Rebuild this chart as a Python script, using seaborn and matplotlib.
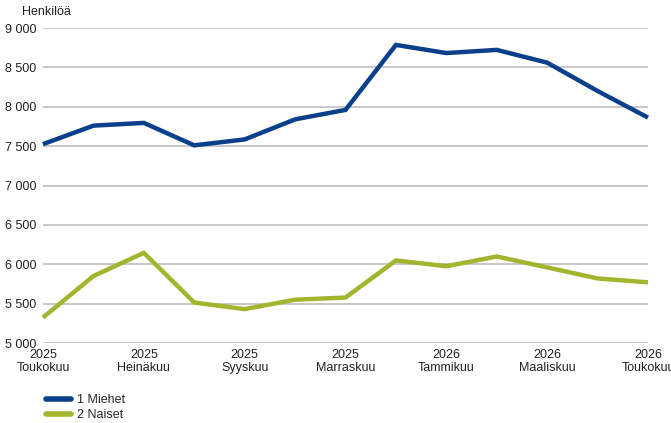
import numpy as np
import pandas as pd
import matplotlib
matplotlib.use("Agg")
import matplotlib.pyplot as plt
import seaborn as sns

# kuukaudet 2025/05 - 2026/05
months = ["2025\nToukokuu", "2025\nKesäkuu", "2025\nHeinäkuu", "2025\nElokuu",
          "2025\nSyyskuu", "2025\nLokakuu", "2025\nMarraskuu", "2025\nJoulukuu",
          "2026\nTammikuu", "2026\nHelmikuu", "2026\nMaaliskuu", "2026\nHuhtikuu",
          "2026\nToukokuu"]
miehet = [7525, 7760, 7795, 7510, 7585, 7840, 7960, 8785, 8682, 8722, 8560, 8200, 7862]
naiset = [5324, 5850, 6145, 5514, 5430, 5550, 5577, 6048, 5975, 6098, 5960, 5820, 5770]
series = ["1 Miehet", "2 Naiset"]
yticks = [5000, 5500, 6000, 6500, 7000, 7500, 8000, 8500, 9000]

df = pd.DataFrame({
    "kk": list(range(len(months))) * 2,
    "arvo": miehet + naiset,
    "sarja": [series[0]] * len(months) + [series[1]] * len(months),
})

sns.set_style("white")
plt.rcParams["font.family"] = ["Liberation Sans", "DejaVu Sans"]

fig = plt.figure(figsize=(6.71, 4.23), dpi=100)
ax = fig.add_axes([43 / 671, 1 - 343 / 423, (648 - 43) / 671, (343 - 28) / 423])

colors = {"1 Miehet": "#0a3f8c", "2 Naiset": "#a3b52f"}
sns.lineplot(data=df, x="kk", y="arvo", hue="sarja", palette=colors,
             linewidth=3.2, ax=ax, legend=False, clip_on=False,
             solid_capstyle="butt", solid_joinstyle="miter")

ax.set_xlim(0, len(months) - 1)
ax.set_ylim(5000, 9000)
ax.set_yticks(yticks)
ax.set_yticklabels([f"{v:,}".replace(",", " ") for v in yticks], fontsize=9, color="#222222")
tick_pos = list(range(0, len(months), 2))
ax.set_xticks(tick_pos)
ax.set_xticklabels([months[i] for i in tick_pos], fontsize=9, color="#222222", linespacing=1.15)
ax.tick_params(axis="both", length=0, pad=5)
ax.tick_params(axis="x", pad=4)
ax.grid(axis="y", color="#c4c4c4", linewidth=1.3)
ax.set_axisbelow(True)
for s in ax.spines.values():
    s.set_visible(False)
ax.set_xlabel("")
ax.set_ylabel("")

fig.text(22 / 671, 1 - 12 / 423, "Henkilöä", fontsize=9, color="#222222", va="center")

# selite
handles = [plt.Line2D([], [], color=colors[s], linewidth=4) for s in series]
fig.legend(handles, series, loc="upper left", bbox_to_anchor=(40 / 671, 1 - 388 / 423),
           frameon=False, fontsize=9, handlelength=2.0, handletextpad=0.45,
           labelspacing=0.25, borderpad=0)

fig.savefig("out.png", dpi=100)
